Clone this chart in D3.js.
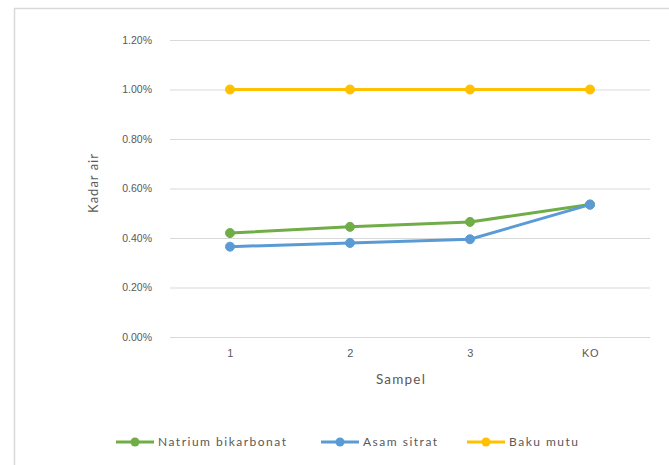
<!DOCTYPE html>
<html>
<head>
<meta charset="utf-8">
<script src="https://cdn.jsdelivr.net/npm/d3@7"></script>
<style>
  html, body { margin: 0; padding: 0; background: #fff; }
  svg { display: block; font-family: Lato, "Open Sans", sans-serif; }
</style>
</head>
<body>
<svg id="chart" width="669" height="465"></svg>
<script>
// Sample categories and moisture content (%) per treatment
const categories = ["1", "2", "3", "KO"];
const natriumBikarbonat = [0.42, 0.445, 0.465, 0.535];
const asamSitrat = [0.365, 0.38, 0.395, 0.535];
const bakuMutu = [1.0, 1.0, 1.0, 1.0];
const yTicks = [0, 0.2, 0.4, 0.6, 0.8, 1.0, 1.2];

const seriesList = [
  { name: "Natrium bikarbonat", values: natriumBikarbonat, color: "#70AD47" },
  { name: "Asam sitrat", values: asamSitrat, color: "#5B9BD5" },
  { name: "Baku mutu", values: bakuMutu, color: "#FFC000" }
];

const svg = d3.select("#chart");
const plot = { left: 170, right: 650, top: 40, bottom: 337 };

// Chart area frame
svg.append("rect")
  .attr("x", 14.5).attr("y", 8.5)
  .attr("width", 700).attr("height", 500)
  .attr("fill", "#fff").attr("stroke", "#d9d9d9").attr("stroke-width", 1.5);

const x = d3.scalePoint().domain(categories)
  .range([plot.left, plot.right]).padding(0.5);
const y = d3.scaleLinear().domain([0, 1.2]).range([plot.bottom, plot.top]);

// Horizontal gridlines and percentage labels
const yAxis = d3.axisLeft(y).tickValues(yTicks)
  .tickSize(-(plot.right - plot.left)).tickPadding(18)
  .tickFormat(d => d3.format(".2f")(d) + "%");
const gy = svg.append("g").attr("transform", `translate(${plot.left},0)`).call(yAxis);
gy.select(".domain").remove();
gy.selectAll(".tick line").attr("stroke", "#d9d9d9").attr("stroke-width", 1);
gy.selectAll(".tick text").attr("fill", "#595959").attr("font-size", 10.5);

// Category labels along the bottom
const xAxis = d3.axisBottom(x).tickSize(0).tickPadding(12);
const gx = svg.append("g").attr("transform", `translate(0,${plot.bottom})`).call(xAxis);
gx.select(".domain").remove();
gx.selectAll(".tick text").attr("fill", "#595959").attr("font-size", 11)
  .attr("letter-spacing", 0.6);

// Axis titles
svg.append("text")
  .attr("x", 401).attr("y", 384)
  .attr("text-anchor", "middle").attr("fill", "#595959").attr("font-size", 13.5)
  .attr("letter-spacing", 1.2)
  .text("Sampel");
svg.append("text")
  .attr("transform", `translate(98,183) rotate(-90)`)
  .attr("text-anchor", "middle").attr("fill", "#595959").attr("font-size", 13)
  .attr("letter-spacing", 1)
  .text("Kadar air");

// Series lines with round markers
const line = d3.line().x((d, i) => x(categories[i])).y(d => y(d));
seriesList.forEach(s => {
  const g = svg.append("g");
  g.append("path").datum(s.values)
    .attr("d", line).attr("fill", "none")
    .attr("stroke", s.color).attr("stroke-width", 3)
    .attr("stroke-linejoin", "round").attr("stroke-linecap", "round");
  g.selectAll("circle").data(s.values).join("circle")
    .attr("cx", (d, i) => x(categories[i])).attr("cy", d => y(d))
    .attr("r", 4.5).attr("fill", s.color).attr("stroke", s.color);
});

// Legend
const legendX = [116, 321, 467];
seriesList.forEach((s, i) => {
  const lx = legendX[i], ly = 442;
  const g = svg.append("g");
  g.append("line").attr("x1", lx).attr("x2", lx + 38).attr("y1", ly).attr("y2", ly)
    .attr("stroke", s.color).attr("stroke-width", 3);
  g.append("circle").attr("cx", lx + 19).attr("cy", ly).attr("r", 4.5).attr("fill", s.color);
  g.append("text").attr("x", lx + 42).attr("y", ly + 4)
    .attr("fill", "#595959").attr("font-size", 12).attr("letter-spacing", 1.5)
    .text(s.name);
});
</script>
</body>
</html>
